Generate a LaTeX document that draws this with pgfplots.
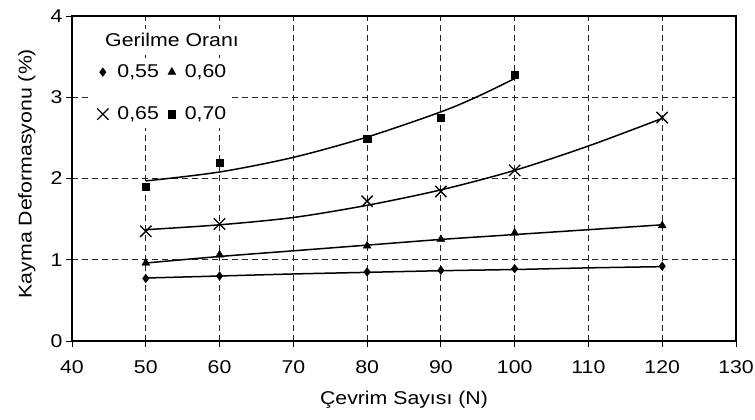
\documentclass[border=0pt]{standalone}
\usepackage{pgfplots}
\pgfplotsset{compat=1.18}
\usepackage{fontspec}
\setmainfont{Liberation Sans}[FakeStretch=1.15]
\newcommand{\cf}{\fontsize{18.5}{22}\selectfont}
\begin{document}
\begin{tikzpicture}
\path[use as bounding box] (-72pt,-79pt) rectangle (683pt,341pt);
\begin{axis}[
  scale only axis,
  width=664pt, height=325pt,
  xmin=40, xmax=130, ymin=0, ymax=4,
  xtick={40,50,...,130}, ytick={0,1,2,3,4},
  /pgf/number format/assume math mode=true,
  tick label style={font=\cf},
  xticklabel style={yshift=-10pt},
  label style={font=\cf},
  xlabel={Çevrim Sayısı (N)},
  ylabel={Kayma Deformasyonu (\%)},
  xlabel style={at={(axis description cs:0.5,-0.18)}, anchor=center},
  ylabel style={at={(axis description cs:-0.068,0.515)}, anchor=center},
  axis line style={line width=1.5pt},
  tick align=outside, major tick length=6pt,
  xtick pos=bottom, ytick pos=left,
  tick style={black, line width=0.8pt},
  grid=major,
  major grid style={black!85, line width=0.8pt, dash pattern=on 6pt off 4pt},
  legend columns=2,
  legend image code/.code={\draw plot coordinates {(0pt,0pt)};},
  legend style={at={(axis description cs:0.0286,0.871)}, anchor=north west,
    draw=none, fill=white, inner sep=6pt, font=\cf,
    column sep=9pt, row sep=26pt,
    nodes={inner sep=0pt, text height=13pt, text depth=3pt},
    cells={anchor=west}},
]
% trend lines
\addplot[forget plot, black, line width=1.5pt, smooth] coordinates
  {(50,0.775)(60,0.80)(70,0.825)(80,0.845)(90,0.865)(100,0.88)(110,0.90)(120,0.915)};
\addplot[forget plot, black, line width=1.5pt, smooth] coordinates
  {(50,0.96)(60,1.04)(70,1.11)(80,1.18)(90,1.25)(100,1.31)(110,1.37)(120,1.43)};
\addplot[forget plot, black, line width=1.5pt, smooth] coordinates
  {(50,1.37)(60,1.43)(70,1.52)(80,1.67)(90,1.86)(100,2.10)(110,2.40)(120,2.74)};
\addplot[forget plot, black, line width=1.5pt, smooth] coordinates
  {(50,1.97)(60,2.08)(70,2.26)(80,2.51)(90,2.82)(95,3.01)(100,3.23)};
% data points
\addplot[only marks, mark=diamond*, mark size=4.3pt, black] coordinates
  {(50,0.77)(60,0.80)(80,0.85)(90,0.87)(100,0.89)(120,0.92)};
\addlegendentry{0,55}
\addplot[only marks, mark=triangle*, mark size=4.6pt, black] coordinates
  {(50,0.96)(60,1.06)(80,1.17)(90,1.25)(100,1.33)(120,1.42)};
\addlegendentry{0,60}
\addplot[only marks, mark=x, mark size=8pt, black, line width=1.3pt] coordinates
  {(50,1.35)(60,1.44)(80,1.72)(90,1.84)(100,2.10)(120,2.75)};
\addlegendentry{0,65}
\addplot[only marks, mark=square*, mark size=3.6pt, black] coordinates
  {(50,1.90)(60,2.19)(80,2.49)(90,2.75)(100,3.28)};
\addlegendentry{0,70}
\node[fill=white, inner sep=4pt, anchor=west, font=\cf] at (axis description cs:0.0437,0.926) {Gerilme Oranı};
\end{axis}
\end{tikzpicture}
\end{document}
